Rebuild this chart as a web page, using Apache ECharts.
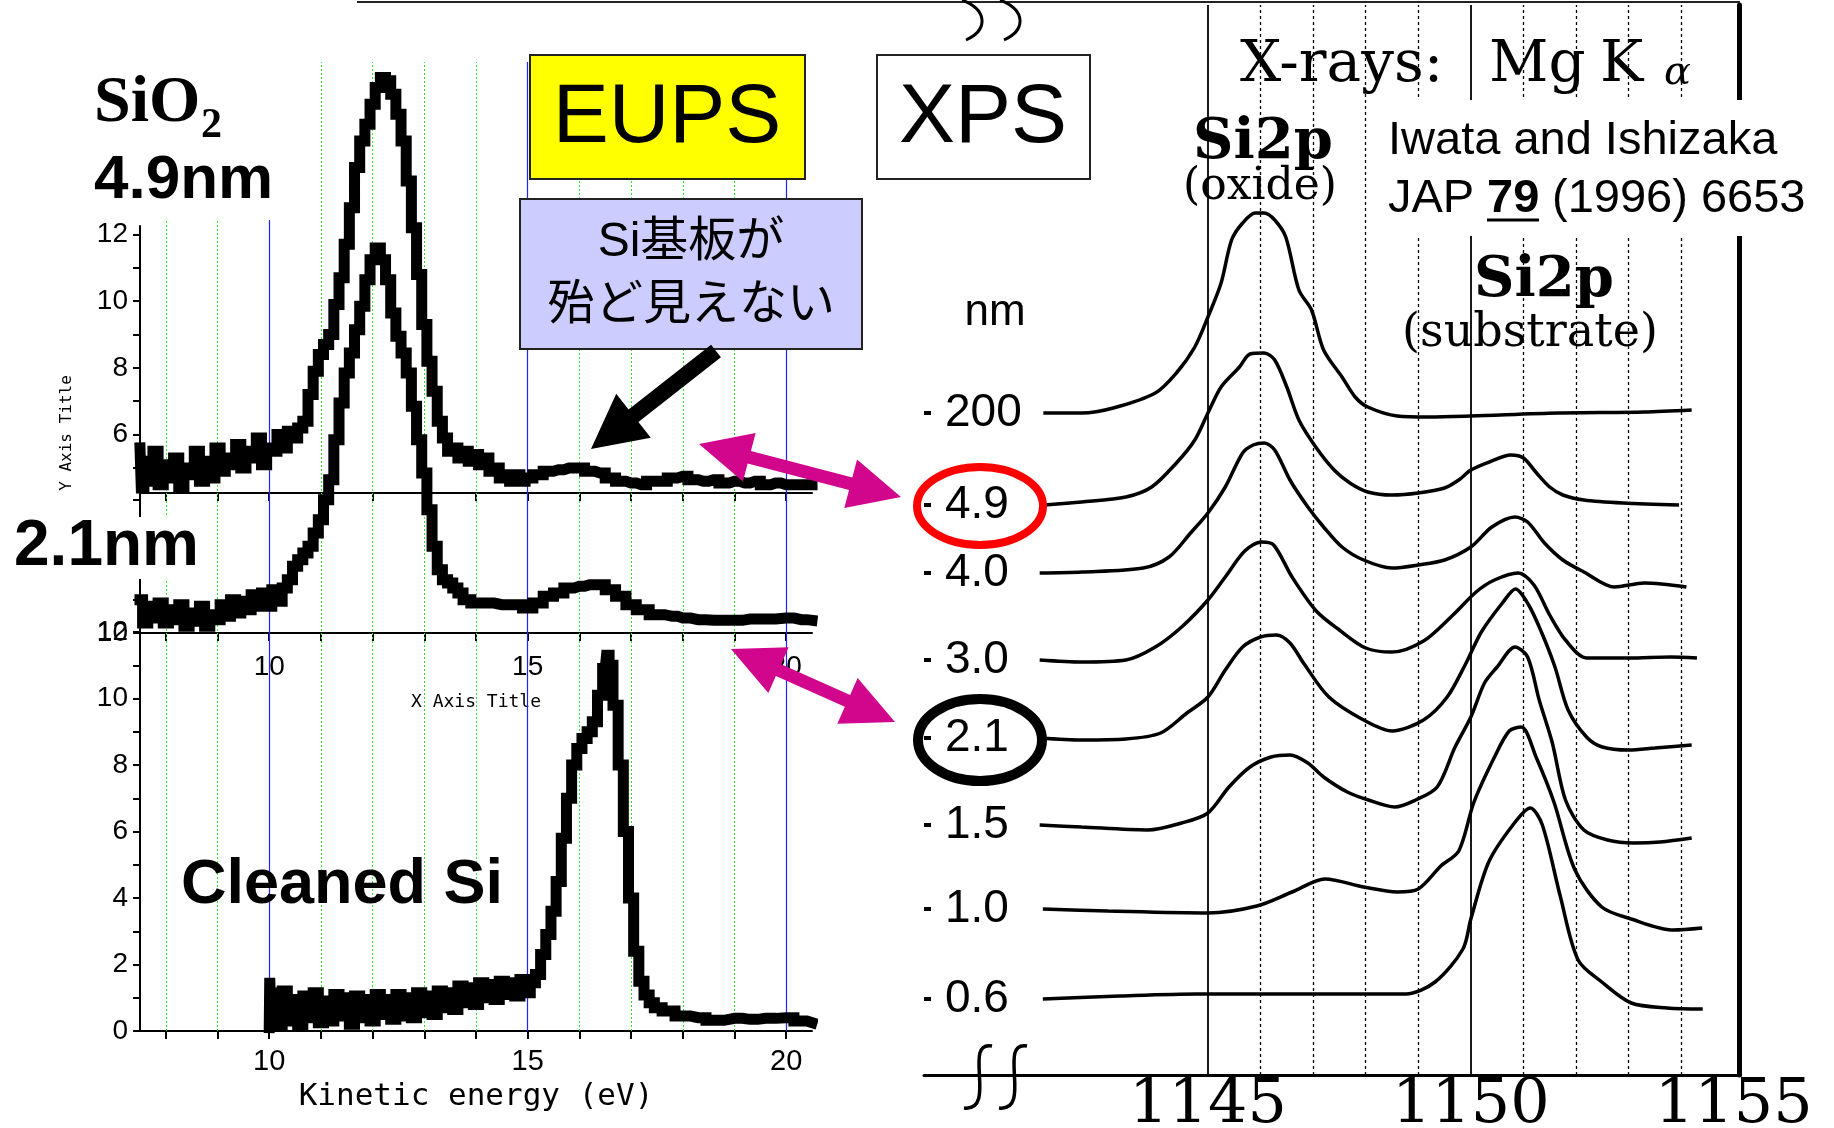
<!DOCTYPE html>
<html><head><meta charset="utf-8">
<script src="https://cdn.jsdelivr.net/npm/echarts@6/dist/echarts.min.js"></script>
<style>html,body{margin:0;padding:0;background:#fff}#c{width:1834px;height:1128px}</style>
</head><body><div id="c"></div>
<script>
// ================= EUPS data (kinetic energy eV, intensity) =================
const eups49 = [[7.5,5.6],[7.55,4.4],[7.6,5.2],[7.7,4.6],[7.8,5.5],[7.9,4.5],[8.0,5.1],[8.1,4.7],[8.2,5.3],[8.3,4.4],[8.4,5.0],[8.5,4.8],[8.6,5.5],[8.7,4.6],[8.8,5.2],[8.9,4.7],[9.0,5.6],[9.1,4.9],[9.2,5.3],[9.3,5.1],[9.4,5.7],[9.5,5.0],[9.6,5.5],[9.7,5.3],[9.8,5.9],[9.9,5.1],[10.0,5.6],[10.1,5.5],[10.2,6.0],[10.3,5.6],[10.4,6.1],[10.5,5.9],[10.6,6.2],[10.7,6.4],[10.8,7.2],[10.9,7.9],[11.0,8.4],[11.1,8.7],[11.2,9.0],[11.3,9.9],[11.4,10.7],[11.5,11.7],[11.6,12.8],[11.7,14.0],[11.8,14.8],[11.9,15.3],[12.0,15.9],[12.1,16.4],[12.2,16.7],[12.3,16.6],[12.4,16.2],[12.5,15.6],[12.6,14.8],[12.7,13.6],[12.8,12.2],[12.9,10.8],[13.0,9.3],[13.1,8.2],[13.2,7.3],[13.3,6.4],[13.4,5.9],[13.5,5.5],[13.6,5.6],[13.7,5.3],[13.8,5.5],[13.9,5.2],[14.0,5.4],[14.1,5.1],[14.2,5.3],[14.3,4.9],[14.4,5.0],[14.5,4.7],[14.6,4.8],[14.7,4.6],[14.8,4.8],[14.9,4.6],[15.0,4.7],[15.2,4.8],[15.4,4.9],[15.6,4.95],[15.8,5.0],[16.0,5.0],[16.2,4.9],[16.4,4.85],[16.6,4.7],[16.8,4.6],[17.0,4.55],[17.2,4.5],[17.4,4.6],[17.6,4.6],[17.8,4.7],[18.0,4.75],[18.2,4.65],[18.4,4.6],[18.6,4.65],[18.8,4.55],[19.0,4.6],[19.2,4.55],[19.4,4.6],[19.6,4.5],[19.8,4.55],[20.0,4.5],[20.2,4.5],[20.5,4.5]];
const eups21 = [[7.5,11.0],[7.6,10.3],[7.7,10.8],[7.8,10.45],[7.9,10.9],[8.0,10.3],[8.1,10.7],[8.2,10.4],[8.3,10.85],[8.4,10.2],[8.5,10.6],[8.6,10.35],[8.7,10.8],[8.8,10.2],[8.9,10.55],[9.0,10.4],[9.1,10.85],[9.2,10.5],[9.3,11.0],[9.4,10.6],[9.5,10.95],[9.6,10.7],[9.7,11.15],[9.8,10.8],[9.9,11.2],[10.0,10.8],[10.1,11.3],[10.2,10.95],[10.3,11.35],[10.4,11.6],[10.5,12.0],[10.6,12.2],[10.7,12.4],[10.8,12.6],[10.9,13.0],[11.0,13.4],[11.1,14.0],[11.2,14.6],[11.3,15.8],[11.4,16.9],[11.5,17.8],[11.6,18.4],[11.7,19.1],[11.8,19.8],[11.9,20.6],[12.0,21.2],[12.1,21.55],[12.2,21.2],[12.3,20.6],[12.4,19.6],[12.5,18.9],[12.6,18.4],[12.7,17.8],[12.8,16.8],[12.9,15.8],[13.0,14.8],[13.1,13.7],[13.2,12.6],[13.3,11.9],[13.4,11.6],[13.5,11.5],[13.6,11.35],[13.7,11.2],[13.8,11.0],[14.0,10.9],[14.2,10.9],[14.5,10.85],[14.8,10.85],[15.0,10.75],[15.2,10.9],[15.4,11.1],[15.6,11.2],[15.8,11.35],[16.0,11.4],[16.2,11.45],[16.4,11.45],[16.6,11.3],[16.8,11.1],[17.0,10.85],[17.2,10.7],[17.5,10.55],[17.8,10.5],[18.0,10.45],[18.3,10.4],[18.6,10.38],[19.0,10.38],[19.3,10.42],[19.6,10.42],[20.0,10.45],[20.3,10.4],[20.5,10.38]];
const eupsSi = [[10.0,0.1],[10.02,1.6],[10.05,0.05],[10.08,1.3],[10.12,0.2],[10.16,1.1],[10.2,0.15],[10.3,1.2],[10.4,0.3],[10.5,0.95],[10.6,0.15],[10.7,1.05],[10.8,0.4],[10.9,1.15],[11.0,0.25],[11.1,0.9],[11.2,0.3],[11.3,1.1],[11.4,0.45],[11.5,1.0],[11.6,0.2],[11.7,1.05],[11.8,0.4],[11.9,0.95],[12.0,0.3],[12.1,1.1],[12.2,0.5],[12.3,0.95],[12.4,0.35],[12.5,1.1],[12.6,0.45],[12.7,1.0],[12.8,0.4],[12.9,1.15],[13.0,0.55],[13.1,1.05],[13.2,0.5],[13.3,1.2],[13.4,0.7],[13.5,1.15],[13.6,0.65],[13.7,1.35],[13.8,0.85],[13.9,1.3],[14.0,0.8],[14.1,1.45],[14.2,1.0],[14.3,1.4],[14.4,0.95],[14.5,1.5],[14.6,1.1],[14.7,1.45],[14.8,1.05],[14.9,1.55],[15.0,1.15],[15.1,1.45],[15.2,1.7],[15.3,2.3],[15.4,2.9],[15.5,3.6],[15.6,4.5],[15.7,5.8],[15.8,7.0],[15.9,8.0],[16.0,8.5],[16.1,8.8],[16.2,9.0],[16.3,9.3],[16.4,10.1],[16.5,10.9],[16.55,11.3],[16.6,11.0],[16.7,9.8],[16.8,8.0],[16.9,6.0],[17.0,4.0],[17.1,2.4],[17.2,1.5],[17.3,1.08],[17.4,0.85],[17.5,0.7],[17.7,0.6],[18.0,0.45],[18.3,0.4],[18.6,0.32],[19.0,0.38],[19.3,0.35],[19.6,0.38],[20.0,0.4],[20.3,0.3],[20.5,0.25]];
const eupsXTicks = [8,9,10,11,12,13,14,15,16,17,18,19,20];
const eupsXLabels = [10,15,20];
const eupsGreen = [8,9,11,12,13,14,16,17,18,19];
const eupsBlue = [10,15,20];
const topYLabels = [6,8,10,12], topYTicks = [5,6,7,8,9,10,11,12];
const midYLabels = [10], midYTicks = [10,11,12,13,14];
const botYLabels = [0,2,4,6,8,10,12], botYTicks = [0,1,2,3,4,5,6,7,8,9,10,11,12];

// ================= XPS data (energy eV, intensity above each baseline) =================
const xpsNames   = ['200','4.9','4.0','3.0','2.1','1.5','1.0','0.6'];
const xpsOffsets = [662,570,502,415,337,250,166,76];
const xps200 = [[1141.87,0],[1142.6,0],[1143.2,5],[1144.0,20],[1144.4,40],[1144.75,66],[1145.0,96],[1145.25,130],[1145.45,173],[1145.66,190],[1145.9,200],[1146.07,200],[1146.27,193],[1146.48,176],[1146.73,123],[1146.97,103],[1147.2,63],[1147.55,36],[1147.8,16],[1148.04,6],[1148.6,-3],[1149.2,-4],[1150.0,-3],[1151.66,0],[1153.3,1],[1154.2,3]];
const xps49 = [[1141.9,0],[1142.6,3],[1143.44,8],[1143.93,18],[1144.4,42],[1144.75,65],[1145.0,92],[1145.25,118],[1145.6,138],[1145.8,151],[1146.07,152],[1146.27,145],[1146.5,118],[1146.73,85],[1147.05,58],[1147.4,35],[1147.7,22],[1148.04,13],[1148.5,10],[1149.0,12],[1149.5,17],[1149.77,25],[1150.0,35],[1150.35,43],[1150.76,50],[1151.0,47],[1151.25,32],[1151.5,18],[1151.75,10],[1152.15,5],[1152.9,2],[1153.96,0]];
const xps40 = [[1141.8,0],[1142.6,1],[1143.77,5],[1144.26,16],[1144.67,40],[1145.0,60],[1145.33,86],[1145.66,120],[1145.86,128],[1146.07,130],[1146.27,123],[1146.56,93],[1146.9,66],[1147.2,46],[1147.55,26],[1147.96,13],[1148.5,5],[1149.0,8],[1149.5,13],[1150.0,26],[1150.4,46],[1150.84,56],[1151.08,51],[1151.4,30],[1151.75,13],[1152.15,1],[1152.73,-14],[1153.3,-10],[1154.1,-14]];
const xps30 = [[1141.8,0],[1142.6,-2],[1143.44,0],[1144.0,13],[1144.5,33],[1145.0,60],[1145.33,83],[1145.7,109],[1146.02,118],[1146.25,115],[1146.6,83],[1147.06,49],[1147.5,30],[1148.0,12],[1148.5,8],[1149.1,19],[1149.66,45],[1150.1,68],[1150.45,80],[1150.9,87],[1151.2,75],[1151.5,45],[1151.8,20],[1152.2,2],[1153.0,2],[1153.8,3],[1154.3,2]];
const xps21 = [[1141.8,0],[1142.6,-2],[1143.44,-1],[1144.1,5],[1144.6,25],[1145.0,41],[1145.33,68],[1145.66,91],[1146.0,101],[1146.3,103],[1146.56,95],[1146.83,74],[1147.3,41],[1147.96,18],[1148.5,7],[1149.1,18],[1149.55,41],[1149.9,74],[1150.2,106],[1150.6,135],[1150.85,149],[1151.1,133],[1151.35,105],[1151.6,71],[1151.85,28],[1152.2,1],[1152.5,-9],[1153.0,-12],[1153.5,-10],[1154.2,-7]];
const xps15 = [[1141.8,0],[1142.6,-2],[1143.85,-5],[1144.5,2],[1145.0,12],[1145.4,38],[1145.8,58],[1146.2,68],[1146.56,70],[1146.9,62],[1147.2,48],[1147.65,33],[1148.05,25],[1148.55,18],[1148.95,25],[1149.36,38],[1149.7,78],[1150.0,108],[1150.26,142],[1150.5,158],[1150.84,178],[1151.08,168],[1151.3,125],[1151.55,82],[1151.8,25],[1152.15,-5],[1152.6,-15],[1153.1,-18],[1153.6,-17],[1154.2,-13]];
const xps10 = [[1141.86,0],[1143.1,-2],[1145.0,-4],[1145.93,3],[1146.6,17],[1147.23,30],[1147.96,22],[1148.6,17],[1149.0,20],[1149.43,43],[1149.77,58],[1150.06,107],[1150.45,152],[1150.73,178],[1150.96,182],[1151.24,152],[1151.58,107],[1151.98,39],[1152.49,2],[1153.05,-10],[1153.85,-21],[1154.4,-19]];
const xps06 = [[1141.86,0],[1143.33,3],[1144.8,5],[1147.06,5],[1148.76,5],[1149.32,17],[1149.85,50],[1150.0,80],[1150.34,137],[1150.8,174],[1151.13,191],[1151.36,174],[1151.7,103],[1152.04,39],[1152.49,17],[1153.05,-4],[1153.73,-9],[1154.41,-10]];
const xpsCurves = [xps200, xps49, xps40, xps30, xps21, xps15, xps10, xps06];
const xpsSolid = [1145,1150];
const xpsDotted = [1146,1147,1148,1149,1151,1152,1153,1154];
const xpsXLabels = [1145,1150,1155];

// ================= layout / styles =================
const SANS = '"Liberation Sans", Arial, sans-serif';
const SERIF = '"DejaVu Serif", serif';
const MONO = '"DejaVu Sans Mono", monospace';
const CJK = '"Liberation Sans", "Noto Sans CJK JP", sans-serif';
const L = 140, W = 672;

function eupsX(gi, opts){
  return Object.assign({gridIndex:gi, type:'value', min:7.5, max:20.5,
    axisLine:{show:true, onZero:false, lineStyle:{color:'#000', width:2}},
    axisTick:{show:true, customValues:eupsXTicks, length:8, lineStyle:{color:'#000', width:2}},
    axisLabel:{show:false}, splitLine:{show:false}}, opts||{});
}
function eupsY(gi, min, max, labels, ticks){
  return {gridIndex:gi, type:'value', min:min, max:max,
    axisLine:{show:true, onZero:false, lineStyle:{color:'#000', width:2}},
    axisTick:{show:true, customValues:ticks, length:7, lineStyle:{color:'#000', width:2}},
    axisLabel:{show:true, customValues:labels, color:'#000', fontFamily:SANS, fontSize:28, margin:12},
    splitLine:{show:false}};
}

const xAxes = [
  {gridIndex:0, type:'value', min:7.5, max:20.5, show:false, splitLine:{show:false}},
  eupsX(1),
  eupsX(2, {axisLabel:{show:true, customValues:eupsXLabels, color:'#000', fontFamily:SANS, fontSize:28, margin:20},
            name:'X Axis Title', nameLocation:'middle', nameGap:60, nameTextStyle:{color:'#000', fontFamily:MONO, fontSize:18}}),
  eupsX(3, {axisLabel:{show:true, customValues:eupsXLabels, color:'#000', fontFamily:SANS, fontSize:29, margin:16},
            name:'Kinetic energy (eV)', nameLocation:'middle', nameGap:50, nameTextStyle:{color:'#000', fontFamily:MONO, fontSize:31}}),
  {gridIndex:4, type:'value', min:1139.6, max:1155.1,
    axisLine:{show:true, onZero:false, lineStyle:{color:'#000', width:3}},
    axisTick:{show:false},
    axisLabel:{show:true, customValues:xpsXLabels, color:'#000', fontFamily:SERIF, fontSize:62, margin:0,
      formatter: v => String(v)},
    splitLine:{show:false}}
];
const yAxes = [
  {gridIndex:0, type:'value', min:0, max:1, show:false, splitLine:{show:false}},
  eupsY(1, 4.25, 12.25, topYLabels, topYTicks),
  eupsY(2, 10, 14.2, midYLabels, midYTicks),
  eupsY(3, 0, 12, botYLabels, botYTicks),
  {gridIndex:4, type:'value', min:0, max:1070,
    axisLine:{show:false},
    axisTick:{show:true, inside:true, customValues:xpsOffsets, length:7, lineStyle:{color:'#000', width:4}},
    axisLabel:{show:true, inside:true, customValues:xpsOffsets, margin:21, color:'#000', fontFamily:SANS, fontSize:46,
      formatter: v => xpsNames[xpsOffsets.indexOf(v)]},
    splitLine:{show:false}},
  {gridIndex:4, type:'value', min:0, max:1070, position:'right',
    axisLine:{show:true, onZero:false, lineStyle:{color:'#000', width:5}},
    axisTick:{show:false}, axisLabel:{show:false}, splitLine:{show:false}}
];

const series = [];
series.push({type:'line', xAxisIndex:0, yAxisIndex:0, data:[], silent:true,
  markLine:{silent:true, symbol:['none','none'], label:{show:false}, animation:false,
    data: eupsGreen.map(v => ({xAxis:v, lineStyle:{color:'#22ee22', type:[2,2], width:1}}))
      .concat(eupsBlue.map(v => ({xAxis:v, lineStyle:{color:'#2222ff', type:'solid', width:1.2}})))}});
series.push({type:'line', xAxisIndex:4, yAxisIndex:4, data:[], silent:true,
  markLine:{silent:true, symbol:['none','none'], label:{show:false}, animation:false,
    data: xpsDotted.map(v => ({xAxis:v, lineStyle:{color:'#000', type:[3,3], width:1.3}}))
      .concat(xpsSolid.map(v => ({xAxis:v, lineStyle:{color:'#000', type:'solid', width:1.8}})))}});
[[eups49,1],[eups21,2],[eupsSi,3]].forEach(([d,i]) => {
  series.push({type:'line', xAxisIndex:i, yAxisIndex:i, data:d, showSymbol:false, symbol:'none', clip:false,
    step:'middle', lineStyle:{color:'#000', width:11, join:'miter', cap:'square'}, z:5});
});
xpsCurves.forEach((c, k) => {
  series.push({type:'line', xAxisIndex:4, yAxisIndex:4, data:c.map(p => [p[0], p[1] + xpsOffsets[k]]),
    showSymbol:false, symbol:'none', smooth:0.3, clip:false, lineStyle:{color:'#000', width:3.5}, z:5});
});

// ================= annotations =================
function txt(x, y, text, font, align, vAlign, extra){
  return Object.assign({type:'text', x:x, y:y, z:100,
    style:{text:text, font:font, fill:'#000', align:align||'left', verticalAlign:vAlign||'middle',
           textAlign:align||'left', textVerticalAlign:vAlign||'middle'}}, extra||{});
}
function rect(x, y, w, h, fill, stroke, z){
  return {type:'rect', z:z||90, shape:{x:x, y:y, width:w, height:h},
    style:{fill:fill, stroke:stroke||null, lineWidth:stroke?2:0}};
}
function arrowPts(x1,y1,x2,y2,w,hl,hw,dbl){
  const dx=x2-x1, dy=y2-y1, Ln=Math.hypot(dx,dy), ux=dx/Ln, uy=dy/Ln, nx=-uy, ny=ux;
  const P=(px,py,a,b)=>[px+ux*a+nx*b, py+uy*a+ny*b];
  const pts=[];
  if(dbl){ pts.push([x1,y1], P(x1,y1,hl,hw/2), P(x1,y1,hl,w/2)); }
  else { pts.push(P(x1,y1,0,w/2)); }
  pts.push(P(x2,y2,-hl,w/2), P(x2,y2,-hl,hw/2), [x2,y2], P(x2,y2,-hl,-hw/2), P(x2,y2,-hl,-w/2));
  if(dbl){ pts.push(P(x1,y1,hl,-w/2), P(x1,y1,hl,-hw/2)); }
  else { pts.push(P(x1,y1,0,-w/2)); }
  return pts;
}
function bez(x1,y1,c1x,c1y,c2x,c2y,x2,y2,lw){
  return {type:'bezierCurve', z:100, shape:{x1:x1,y1:y1,cpx1:c1x,cpy1:c1y,cpx2:c2x,cpy2:c2y,x2:x2,y2:y2},
    style:{stroke:'#000', lineWidth:lw||3, fill:null}};
}
const MAG = '#d1068d';
const graphic = [
  {type:'line', z:100, shape:{x1:357,y1:2,x2:1740,y2:2}, style:{stroke:'#222', lineWidth:2}},
  bez(962,0, 988,10, 988,30, 966,40, 3),
  bez(1000,0, 1026,10, 1026,30, 1004,40, 3),
  bez(992,1046, 962,1040, 998,1112, 964,1108, 3.5),
  bez(1027,1046, 997,1040, 1033,1112, 999,1108, 3.5),
  rect(0, 62, 275, 158, '#fff'),
  txt(94, 104, 'SiO', 'bold 66px "Liberation Serif", serif'),
  txt(201, 126, '2', 'bold 42px "Liberation Serif", serif'),
  txt(94, 181, '4.9nm', 'bold 62px ' + SANS),
  rect(8, 517, 198, 62, '#fff'),
  txt(14, 547, '2.1nm', 'bold 64px ' + SANS),
  txt(181, 886, 'Cleaned Si', 'bold 63px ' + SANS),
  txt(67, 433, 'Y Axis Title', '16px ' + MONO, 'center', 'middle', {rotation: Math.PI/2}),
  rect(530, 55, 275, 124, '#ffff00', '#222'),
  txt(667, 119, 'EUPS', '84px ' + SANS, 'center'),
  rect(877, 55, 213, 124, '#ffffff', '#222'),
  txt(983, 119, 'XPS', '84px ' + SANS, 'center'),
  rect(520, 199, 342, 150, '#ccccff', '#222'),
  txt(691, 243, 'Si基板が', '48px ' + CJK, 'center'),
  txt(691, 306, '殆ど見えない', '48px ' + CJK, 'center'),
  {type:'polygon', z:100, shape:{points: arrowPts(716,351, 591,449, 16, 54, 56, false)}, style:{fill:'#000'}},
  {type:'polygon', z:100, shape:{points: arrowPts(699,444, 901,497, 13, 52, 50, true)}, style:{fill:MAG}},
  {type:'polygon', z:100, shape:{points: arrowPts(731,649, 895,722, 13, 52, 50, true)}, style:{fill:MAG}},
  txt(995, 313, 'nm', '44px ' + SANS, 'center'),
  {type:'ellipse', z:100, shape:{cx:980, cy:506, rx:63, ry:39}, style:{fill:null, stroke:'#ff0000', lineWidth:8}},
  {type:'ellipse', z:100, shape:{cx:980, cy:740, rx:62, ry:41}, style:{fill:null, stroke:'#000', lineWidth:10}},
  txt(1240, 66, 'X-rays:', '58px ' + SERIF),
  txt(1489, 66, 'Mg', '58px ' + SERIF),
  txt(1600, 66, 'K', '58px ' + SERIF),
  txt(1664, 74, 'α', 'italic 40px ' + SERIF),
  txt(1263, 143, 'Si2p', 'bold 56px ' + SERIF, 'center'),
  txt(1260, 188, '(oxide)', '44px ' + SERIF, 'center'),
  txt(1544, 281, 'Si2p', 'bold 56px ' + SERIF, 'center'),
  txt(1530, 334, '(substrate)', '46px ' + SERIF, 'center'),
  rect(1376, 100, 458, 136, '#fff'),
  txt(1388, 141, 'Iwata and Ishizaka', '47px ' + SANS),
  txt(1388, 199, 'JAP', '47px ' + SANS),
  txt(1487, 199, '79', 'bold 47px ' + SANS),
  {type:'line', z:100, shape:{x1:1487,y1:220,x2:1539,y2:220}, style:{stroke:'#000', lineWidth:3}},
  txt(1552, 199, '(1996) 6653', '47px ' + SANS)
];

const chart = echarts.init(document.getElementById('c'), null, {renderer:'canvas'});
const G = (o) => Object.assign({outerBoundsMode:'none', containLabel:false}, o);
chart.setOption({
  animation:false,
  backgroundColor:'#fff',
  grid:[
    G({left:L, width:W, top:62, height:969}),
    G({left:L, width:W, top:226, height:267}),
    G({left:L, width:W, top:493, height:140}),
    G({left:L, width:W, top:632, height:399}),
    G({left:924, width:815, top:5, height:1070})
  ],
  xAxis:xAxes, yAxis:yAxes, series:series, graphic:graphic
});
</script></body></html>
